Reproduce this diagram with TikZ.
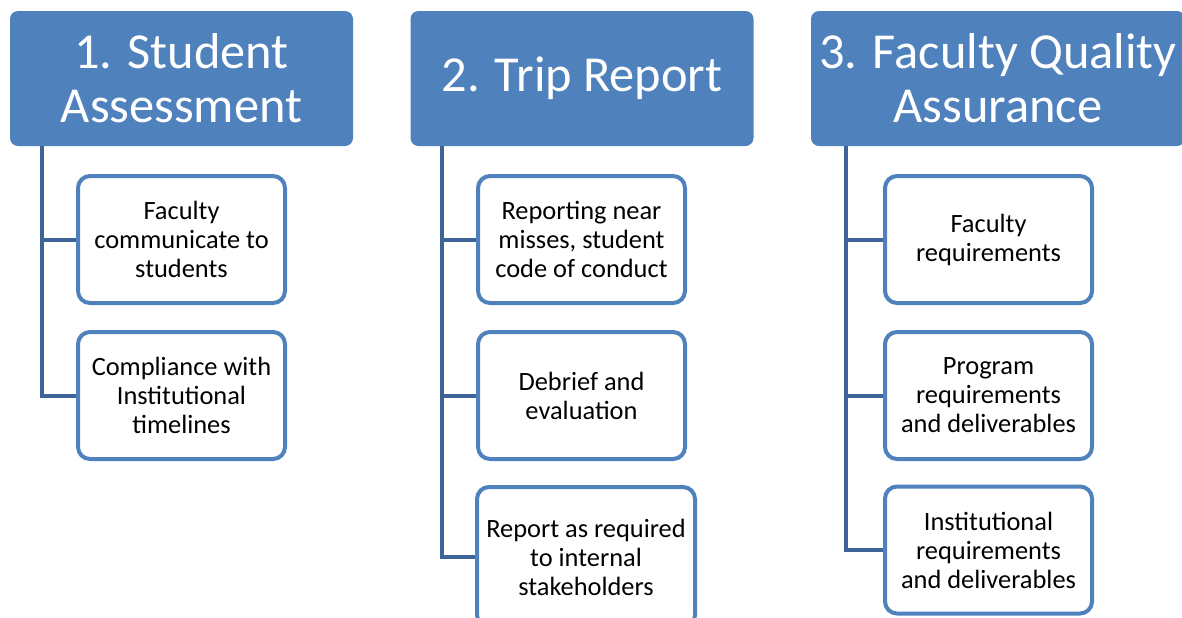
\documentclass[tikz,border=0pt]{standalone}
\usepackage{fontspec}
\setmainfont{Carlito}
\usepackage{xcolor}
\usetikzlibrary{positioning,calc}
\definecolor{headblue}{RGB}{79,129,189}
\definecolor{linkblue}{RGB}{62,99,150}

\begin{document}
\begin{tikzpicture}[x=0.5pt, y=-0.5pt]
 \tikzset{head/.style={rectangle, rounded corners=4pt, fill=headblue, text=white, align=center, minimum width=171.5pt, minimum height=67.5pt, font=\fontsize{25.2}{27}\selectfont},
  item/.style={rectangle, rounded corners=6pt, draw=headblue, line width=2pt, fill=white, align=center, minimum width=103.5pt, minimum height=63.5pt, font=\fontsize{13.2}{14.5}\selectfont},
  link/.style={draw=linkblue, line width=2pt}};
  \useasboundingbox (0,0) rectangle (1182,617);
  \node[head] (head1) at (181.5,78.5) {1. Student\\Assessment};
  \node[head] (head2) at (582,78.5) {2. Trip Report};
  \node[head, minimum width=187pt] (head3) at (998,78.5) {3. Faculty Quality\\Assurance};
  \node[item] (stud1) at (181.5,239.5) {Faculty\\communicate to\\students};
  \node[item] (stud2) at (181.5,395.5) {Compliance with\\Institutional\\timelines};
  \node[item] (trip1) at (581.5,239.5) {Reporting near\\misses, student\\code of conduct};
  \node[item] (trip2) at (581.5,395.5) {Debrief and\\evaluation};
  \node[item, minimum width=109pt, minimum height=70pt] (trip3) at (586,557) {Report as required\\to internal\\stakeholders};
  \node[item] (fac1) at (988.5,239.5) {Faculty\\requirements};
  \node[item] (fac2) at (988.5,395.5) {Program\\requirements\\and deliverables};
  \node[item] (fac3) at (988.5,550) {Institutional\\requirements\\and deliverables};
  \draw[link] ([xshift=16pt]head1.south west) |- (stud1.west);
  \draw[link] ([xshift=16pt]head1.south west) |- (stud2.west);
  \draw[link] ([xshift=16pt]head2.south west) |- (trip1.west);
  \draw[link] ([xshift=16pt]head2.south west) |- (trip2.west);
  \draw[link] ([xshift=16pt]head2.south west) |- (trip3.west);
  \draw[link] ([xshift=17.5pt]head3.south west) |- (fac1.west);
  \draw[link] ([xshift=17.5pt]head3.south west) |- (fac2.west);
  \draw[link] ([xshift=17.5pt]head3.south west) |- (fac3.west);
\end{tikzpicture}
\end{document}
